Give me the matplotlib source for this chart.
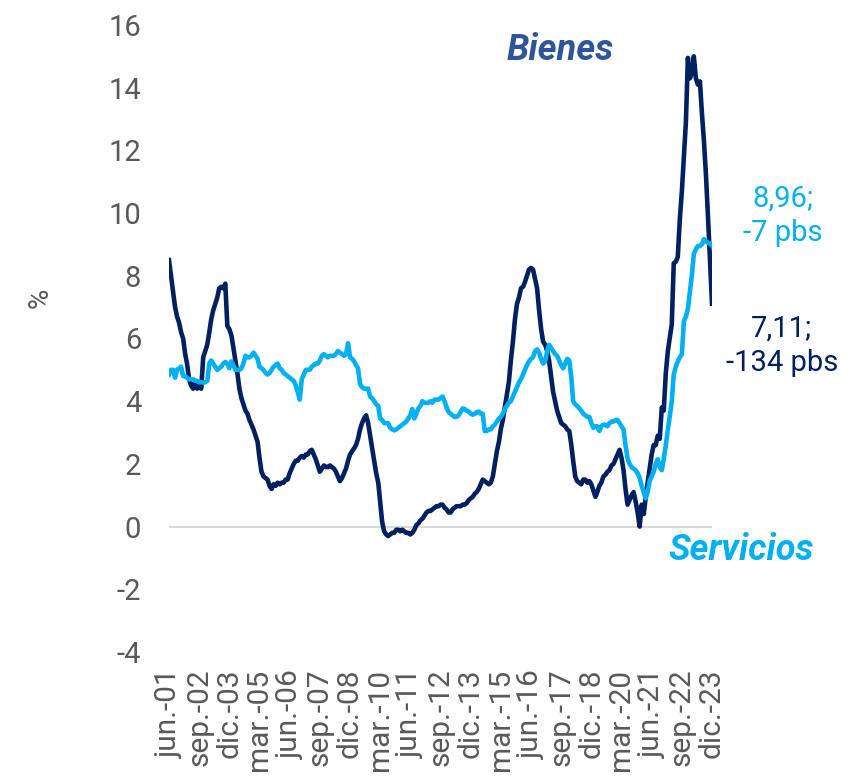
import numpy as np
import pandas as pd
import matplotlib
matplotlib.use("Agg")
import matplotlib.pyplot as plt

plt.rcParams["font.family"] = ["Roboto", "DejaVu Sans"]
plt.rcParams["axes.unicode_minus"] = False

# Inflacion anual de bienes y servicios (%), mensual jun.-01 a dic.-23
start_month = "2001-06"

bienes = [
    8.5, 8.0, 7.5, 7.0, 6.7, 6.5, 6.2, 6.0, 5.5, 5.2, 4.7, 4.5,
    4.4, 4.6, 4.4, 4.6, 4.4, 5.4, 5.6, 5.8, 6.2, 6.6, 6.9, 7.1,
    7.3, 7.6, 7.65, 7.6, 7.75, 6.4, 6.3, 6.1, 5.7, 5.3, 4.9, 4.4,
    4.1, 3.9, 3.7, 3.6, 3.4, 3.25, 3.1, 2.9, 2.7, 2.2, 1.75, 1.6,
    1.55, 1.5, 1.3, 1.2, 1.35, 1.3, 1.4, 1.35, 1.4, 1.4, 1.5, 1.5,
    1.7, 1.85, 2.0, 2.1, 2.1, 2.2, 2.25, 2.2, 2.3, 2.3, 2.4, 2.45,
    2.3, 2.15, 1.95, 1.75, 1.85, 1.95, 1.9, 1.9, 1.95, 1.9, 1.85, 1.75,
    1.6, 1.45, 1.55, 1.7, 1.85, 2.1, 2.3, 2.4, 2.5, 2.6, 2.8, 3.1,
    3.3, 3.45, 3.55, 3.3, 2.9, 2.5, 2.1, 1.7, 1.4, 0.8, 0.15, -0.15,
    -0.25, -0.3, -0.25, -0.2, -0.2, -0.1, -0.1, -0.15, -0.1, -0.15, -0.2, -0.2,
    -0.25, -0.2, -0.1, 0.05, 0.1, 0.2, 0.25, 0.35, 0.45, 0.5, 0.5, 0.55,
    0.6, 0.65, 0.65, 0.7, 0.7, 0.6, 0.55, 0.45, 0.45, 0.55, 0.6, 0.65,
    0.65, 0.65, 0.7, 0.7, 0.75, 0.85, 0.9, 0.95, 1.05, 1.1, 1.2, 1.35,
    1.5, 1.45, 1.4, 1.35, 1.4, 1.6, 2.0, 2.4, 2.7, 3.1, 3.4, 3.8,
    4.2, 4.6, 5.3, 5.9, 6.6, 7.1, 7.3, 7.6, 7.65, 7.8, 8.0, 8.2,
    8.25, 8.2, 7.9, 7.6, 6.9, 6.3, 5.9, 5.8, 5.6, 5.3, 4.8, 4.3,
    4.0, 3.7, 3.5, 3.3, 3.25, 3.2, 3.1, 3.05, 2.6, 2.1, 1.6, 1.45,
    1.4, 1.35, 1.5, 1.5, 1.4, 1.45, 1.35, 1.15, 0.95, 1.1, 1.3, 1.4,
    1.6, 1.65, 1.75, 1.8, 1.95, 2.0, 2.15, 2.3, 2.45, 2.2, 1.8, 1.2,
    0.7, 0.85, 1.0, 1.1, 0.8, 0.45, 0.0, 0.7, 0.4, 0.9, 1.4, 1.85,
    2.3, 2.6, 2.6, 2.9, 2.8, 3.8, 3.7, 4.9, 5.6, 6.0, 6.45, 8.4,
    8.45, 8.6, 9.8, 10.7, 11.8, 12.9, 14.95, 14.3, 14.5, 15.0, 14.3, 14.1,
    14.2, 13.2, 12.3, 11.2, 9.9, 8.45, 7.11,
]

servicios = [
    4.85, 5.0, 5.0, 4.75, 5.0, 5.05, 5.1, 4.8, 4.8, 4.75, 4.7, 4.7,
    4.7, 4.65, 4.65, 4.6, 4.6, 4.6, 4.6, 4.65, 5.2, 5.3, 5.2, 5.1,
    5.0, 5.05, 5.1, 5.2, 5.25, 5.2, 5.05, 5.27, 5.15, 5.0, 5.0, 5.0,
    5.05, 5.2, 5.45, 5.4, 5.4, 5.45, 5.55, 5.45, 5.35, 5.1, 5.05, 5.0,
    4.9, 4.85, 4.9, 5.0, 5.1, 5.15, 5.2, 5.05, 5.0, 4.9, 4.85, 4.8,
    4.75, 4.7, 4.65, 4.5, 4.3, 4.05, 4.7, 4.85, 5.0, 5.0, 5.0, 5.1,
    5.15, 5.2, 5.2, 5.3, 5.45, 5.5, 5.45, 5.4, 5.45, 5.45, 5.45, 5.5,
    5.6, 5.55, 5.5, 5.45, 5.5, 5.85, 5.4, 5.35, 5.27, 5.15, 5.05, 4.55,
    4.45, 4.4, 4.4, 4.4, 4.15, 4.1, 4.0, 3.9, 3.85, 3.45, 3.4, 3.3,
    3.3, 3.3, 3.15, 3.1, 3.07, 3.1, 3.15, 3.2, 3.25, 3.3, 3.35, 3.45,
    3.55, 3.75, 3.45, 3.6, 3.77, 3.85, 4.0, 3.95, 3.95, 3.95, 4.0, 3.95,
    4.05, 4.05, 4.05, 4.1, 4.15, 4.0, 3.8, 3.65, 3.6, 3.55, 3.5, 3.5,
    3.55, 3.65, 3.77, 3.75, 3.7, 3.67, 3.6, 3.57, 3.6, 3.65, 3.67, 3.6,
    3.6, 3.05, 3.05, 3.1, 3.1, 3.2, 3.25, 3.35, 3.45, 3.5, 3.6, 3.75,
    3.85, 3.95, 4.0, 4.15, 4.3, 4.45, 4.6, 4.7, 4.85, 5.0, 5.15, 5.27,
    5.35, 5.4, 5.6, 5.65, 5.55, 5.35, 5.2, 5.27, 5.6, 5.8, 5.7, 5.6,
    5.5, 5.45, 5.3, 5.15, 5.05, 5.2, 5.35, 5.3, 4.75, 4.0, 3.9, 3.85,
    3.77, 3.7, 3.6, 3.55, 3.5, 3.5, 3.3, 3.15, 3.2, 3.2, 3.05, 3.2,
    3.25, 3.25, 3.2, 3.3, 3.35, 3.35, 3.4, 3.4, 3.3, 3.2, 3.1, 2.6,
    2.17, 2.0, 1.9, 1.85, 1.8, 1.7, 1.55, 1.3, 1.1, 0.9, 1.1, 1.45,
    1.6, 1.75, 2.0, 2.15, 1.9, 1.8, 2.17, 2.6, 3.1, 3.5, 4.0, 4.85,
    5.1, 5.27, 5.4, 5.5, 6.55, 6.7, 6.95, 7.5, 8.05, 8.7, 8.85, 8.95,
    8.95, 9.0, 9.17, 9.1, 9.05, 9.03, 8.96,
]

tick_labels = [
    "jun.-01", "sep.-02", "dic.-03", "mar.-05", "jun.-06", "sep.-07", "dic.-08",
    "mar.-10", "jun.-11", "sep.-12", "dic.-13", "mar.-15", "jun.-16", "sep.-17",
    "dic.-18", "mar.-20", "jun.-21", "sep.-22", "dic.-23",
]

COL_BIENES = "#002060"
COL_SERV = "#00B0F0"
COL_BIENES_TXT = "#2F5597"
COL_GRAY = "#595959"

dates_b = pd.date_range(start_month, periods=len(bienes), freq="MS")
dates_s = pd.date_range(start_month, periods=len(servicios), freq="MS")
tick_dates = pd.date_range(start_month, periods=len(tick_labels), freq="15MS")

fig = plt.figure(figsize=(8.54, 7.81), dpi=100)
ax = fig.add_axes([169 / 854, 1 - 652 / 781, (712 - 169) / 854, (652 - 25) / 781])

ax.axhline(0, color="#D9D9D9", lw=1.5, zorder=1)
ax.plot(dates_b, bienes, color=COL_BIENES, lw=3.3, solid_joinstyle="round", zorder=2)
ax.plot(dates_s, servicios, color=COL_SERV, lw=3.3, solid_joinstyle="round", zorder=3)

ax.set_xlim(dates_b[0], dates_b[-1])
ax.set_ylim(-4, 16)
ax.set_yticks(np.arange(-4, 17, 2))
ax.set_xticks(tick_dates)
ax.set_xticklabels(tick_labels, rotation=90)
ax.tick_params(axis="y", length=0, pad=20, labelsize=21, labelcolor=COL_GRAY)
ax.tick_params(axis="x", length=0, pad=12, labelsize=21.5, labelcolor=COL_GRAY)
for s in ax.spines.values():
    s.set_visible(False)

fig.text(40 / 854, 1 - 298 / 781, "%", rotation=90, ha="center", va="center",
         fontsize=20, color=COL_GRAY)

# Etiquetas de serie
fig.text(560 / 854, 1 - 50 / 781, "Bienes", ha="center", va="center",
         fontsize=26, fontweight="bold", fontstyle="italic", color=COL_BIENES_TXT)
fig.text(741 / 854, 1 - 550 / 781, "Servicios", ha="center", va="center",
         fontsize=26, fontweight="bold", fontstyle="italic", color=COL_SERV)


# Ultimo dato y cambio mensual en pbs
def last_label(serie):
    last = serie[-1]
    chg = round((serie[-1] - serie[-2]) * 100)
    return f"{last:.2f}".replace(".", ",") + f";\n{chg} pbs"


fig.text(783 / 854, 1 - 216 / 781, last_label(servicios), ha="center", va="center",
         fontsize=21, color=COL_SERV, linespacing=1.3)
fig.text(782 / 854, 1 - 346 / 781, last_label(bienes), ha="center", va="center",
         fontsize=21, color=COL_BIENES, linespacing=1.3)

plt.savefig("out.png", dpi=100)
plt.close()
